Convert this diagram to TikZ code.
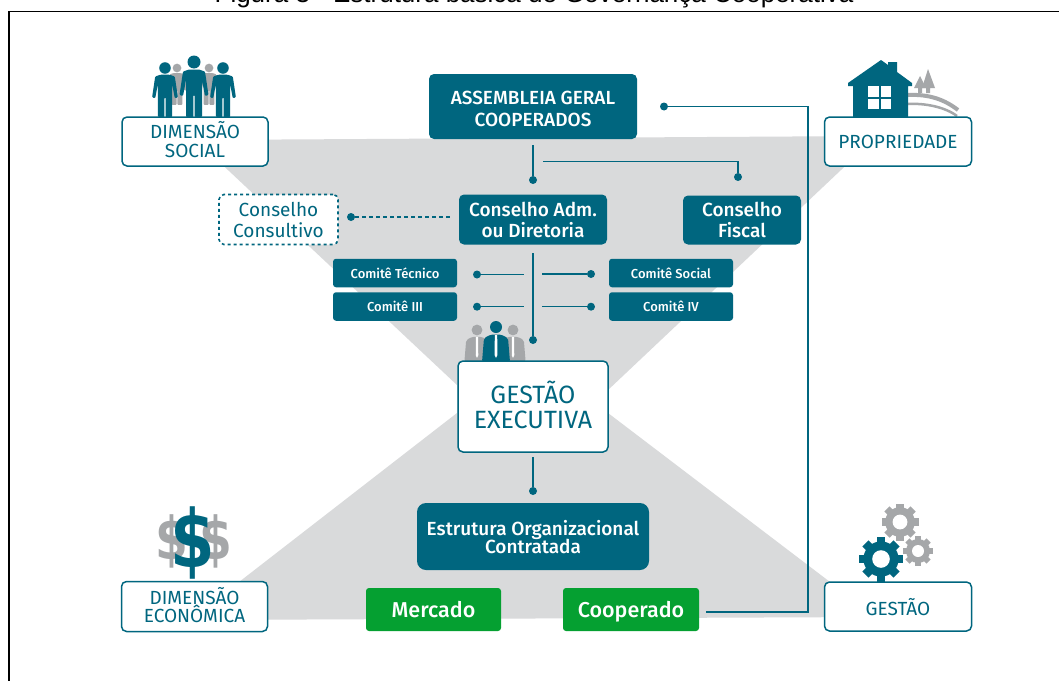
\documentclass[tikz,border=0pt]{standalone}
\usepackage{fontspec}
\setmainfont{Fira Sans Medium}
\newfontfamily\regfont{Fira Sans}
\newfontfamily\titlefont{Liberation Sans}
\newfontfamily\dollarfont{DejaVu Sans}
\definecolor{teal}{HTML}{00667F}
\definecolor{bggray}{HTML}{D9DADB}
\definecolor{icongray}{HTML}{A5A7A9}
\definecolor{boxgreen}{HTML}{05A031}
\newcommand{\fs}[1]{\fontsize{#1}{#1}\selectfont}
\newcommand{\gearicon}[4]{%
  \begin{scope}[shift={(#1,#2)},scale=#3]
    \fill[#4] (0,0) circle (0.8);
    \foreach \a in {0,45,...,315}{\fill[#4,rotate=\a] (-0.2,0) rectangle (0.2,1);}
    \fill[white] (0,0) circle (0.4);
  \end{scope}}
\newcommand{\personicon}[4]{%
  \begin{scope}[shift={(#1,#2)},scale=#3]
    \fill[#4] (0,0) circle (6.5);
    \fill[#4,rounded corners=1pt] (-5,7.5) -- (5,7.5) -- (11,9.5) -- (14.5,33) -- (11,34) -- (8,18) -- (8,55.2) -- (0.7,55.2) -- (0.7,33) -- (-0.7,33) -- (-0.7,55.2) -- (-8,55.2) -- (-8,18) -- (-11,34) -- (-14.5,33) -- (-11,9.5) -- cycle;
  \end{scope}}
\newcommand{\suiticon}[4]{%
  \begin{scope}[shift={(#1,#2)},scale=#3]
    \fill[#4] (0,0) circle (6);
    \fill[#4,rounded corners=2pt] (-14,35) -- (-12,11) -- (-5,7.5) -- (5,7.5) -- (12,11) -- (14,35) -- cycle;
    \fill[white] (-1.2,8) -- (1.2,8) -- (1.4,28) -- (0,31) -- (-1.4,28) -- cycle;
  \end{scope}}
\tikzset{
  x=1pt,y=-1pt,
  base/.style={rounded corners=5pt,inner sep=0pt,align=center,text depth=0pt},
  solidbox/.style={base,fill=teal,text=white},
  greenbox/.style={base,rounded corners=3pt,fill=boxgreen,text=white},
  outlinebox/.style={base,fill=white,draw=teal,line width=1.5pt,text=teal},
  comite/.style={solidbox,rounded corners=3pt,minimum width=124pt,minimum height=28.5pt,font=\fs{13}},
  dot/.style={circle,fill=teal,inner sep=0pt,minimum size=8pt},
  wire/.style={draw=teal,line width=1.2pt},
  dollar/.style={inner sep=0pt,xscale=0.8,transform shape},
}
\begin{document}
\begin{tikzpicture}
\useasboundingbox (0,0) rectangle (1059,680);
\fill[white] (0,0) rectangle (1059,680);
% title and frame
\node[anchor=base,inner sep=0pt,font=\titlefont\fs{26}] (title) at (534,2) {Figura 3 - Estrutura básica de Governança Cooperativa};
\coordinate (frameA) at (1064,11.5);
\coordinate (frameB) at (9,11.5);
\coordinate (frameC) at (9,690);
\draw[black,line width=1.8pt] (frameA) -- (frameB) -- (frameC);
% hourglass
\fill[bggray] (196,140) -- (877,136) -- (608,390) -- (608,413) -- (876,617) -- (190,620) -- (457,413) -- (457,385) -- cycle;

% boxes
\node[solidbox,minimum width=208pt,minimum height=65pt,font=\fs{19}] (asm) at (533,106.5) {\rule{0pt}{18pt}ASSEMBLEIA GERAL\\[3pt]COOPERADOS};
\node[solidbox,minimum width=148pt,minimum height=50pt,font=\fs{19}] (adm) at (533,219.5) {Conselho Adm.\\[2pt]ou Diretoria};
\node[solidbox,minimum width=118pt,minimum height=49pt,font=\fs{19}] (fiscal) at (742,220) {Conselho\\[2pt]Fiscal};
\node[base,fill=white,draw=teal,line width=1.6pt,dash pattern=on 3pt off 3pt,text=teal,minimum width=119pt,minimum height=50pt,font=\regfont\fs{19}] (consult) at (278.5,219.5) {Conselho\\[2pt]Consultivo};
\node[comite] (ctec) at (395,273) {Comitê Técnico};
\node[comite] (c3) at (395,306.5) {Comitê III};
\node[comite] (csoc) at (671,273) {Comitê Social};
\node[comite] (c4) at (671,306.5) {Comitê IV};
\node[solidbox,rounded corners=9pt,minimum width=232pt,minimum height=67pt,font=\fs{19}] (estr) at (533,536.5) {Estrutura Organizacional\\[-1pt]Contratada};
\node[greenbox,minimum width=135pt,minimum height=43pt,font=\fs{21.5}] (merc) at (433.5,609.5) {Mercado};
\node[greenbox,minimum width=136pt,minimum height=43pt,font=\fs{21.5}] (coop) at (631,609.5) {Cooperado};

% icons
\personicon{177}{68}{0.67}{icongray}
\personicon{209}{68}{0.67}{icongray}
\personicon{165}{68}{0.89}{teal}
\personicon{223}{68}{0.89}{teal}
\personicon{194}{62}{1}{teal}
% house
\draw[icongray,line width=4pt] (908,95) .. controls (930,94) and (945,100) .. (958,110);
\draw[icongray,line width=2.5pt] (908,104) .. controls (925,103) and (945,107) .. (957,116);
\fill[icongray] (928,69) -- (935,88) -- (930,88) -- (930,93) -- (926,93) -- (926,88) -- (922,88) -- cycle;
\fill[icongray] (920,76) -- (926,88) -- (922,88) -- (922,93) -- (918,93) -- (918,88) -- (914,88) -- cycle;
\fill[teal] (881,60) -- (888,65) -- (888,62) -- (897,62) -- (897,72) -- (912,83) -- (912,86) -- (908,86) -- (908,118) -- (853,118) -- (853,86) -- (848,86) -- (848,83) -- cycle;
\fill[white] (868,86) rectangle (891,109);
\fill[teal] (878.5,86) rectangle (880.5,109);
\fill[teal] (868,96.5) rectangle (891,98.5);
% dollars
\node[dollar,text=icongray,font=\dollarfont\bfseries\fs{59}] (dL) at (172,541) {\$};
\node[dollar,text=icongray,font=\dollarfont\bfseries\fs{59}] (dR) at (216,541) {\$};
\node[dollar,text=teal,font=\dollarfont\bfseries\fs{80}] (dC) at (193,543) {\$};
% gears
\gearicon{900}{522}{18.5}{icongray}
\gearicon{918}{551}{15}{icongray}
\fill[teal] (877,575) rectangle (885,583);
\gearicon{881}{559}{22}{teal}
% suits
\suiticon{477}{330}{0.9}{icongray}
\suiticon{513}{330}{0.9}{icongray}
\suiticon{496}{327}{1}{teal}

% outlined boxes
\node[outlinebox,minimum width=146pt,minimum height=49pt,text depth=4pt,font=\regfont\fs{19}] (social) at (195,141.5) {DIMENSÃO\\[0pt]SOCIAL};
\node[outlinebox,minimum width=147pt,minimum height=49pt,font=\regfont\fs{19}] (prop) at (898,141.5) {PROPRIEDADE};
\node[outlinebox,minimum width=150pt,minimum height=91pt,text depth=3pt,font=\regfont\fs{25}] (gexec) at (533,406.5) {GESTÃO\\[0pt]EXECUTIVA};
\node[outlinebox,minimum width=146pt,minimum height=50pt,text depth=4pt,font=\regfont\fs{19}] (econ) at (194.5,606.5) {DIMENSÃO\\[-1pt]ECONÔMICA};
\node[outlinebox,minimum width=147pt,minimum height=49pt,font=\regfont\fs{19}] (gest) at (898,606.5) {GESTÃO};

% connector ends
\node[dot] (dAdm) at (533,180) {};
\node[dot] (dFiscal) at (738,177) {};
\node[dot] (dAsm) at (664,106.5) {};
\node[dot] (dCons) at (351,217) {};
\node[dot] (dTec) at (477,274.5) {};
\node[dot] (d3) at (477,306.7) {};
\node[dot] (dSoc) at (591,274) {};
\node[dot] (d4) at (591,306.7) {};
\node[dot] (dGest) at (533,340) {};
\node[dot] (dEstr) at (533,491) {};
\coordinate (asmOut) at (533,145);
\coordinate (branch) at (543,161.5);
\coordinate (branchTurn) at (738,161.5);
\coordinate (consEnd) at (451,217);
\coordinate (admOut) at (533,253);
\coordinate (tecEnd) at (524,274.5);
\coordinate (c3End) at (524,306.7);
\coordinate (socEnd) at (542,274);
\coordinate (c4End) at (542,306.7);
\coordinate (gexOut) at (533,457);
\coordinate (coopOut) at (706,612);
\coordinate (busBottom) at (808,612);
\coordinate (busTop) at (808,106.5);

\draw[wire] (asmOut) -- (dAdm);
\draw[wire] (branch) -- (branchTurn) -- (dFiscal);
\draw[wire] (coopOut) -- (busBottom) -- (busTop) -- (dAsm);
\draw[wire,dash pattern=on 4pt off 3pt] (dCons) -- (consEnd);
\draw[wire] (admOut) -- (dGest);
\draw[wire] (dTec) -- (tecEnd);
\draw[wire] (d3) -- (c3End);
\draw[wire] (dSoc) -- (socEnd);
\draw[wire] (d4) -- (c4End);
\draw[wire] (gexOut) -- (dEstr);
\end{tikzpicture}
\end{document}
